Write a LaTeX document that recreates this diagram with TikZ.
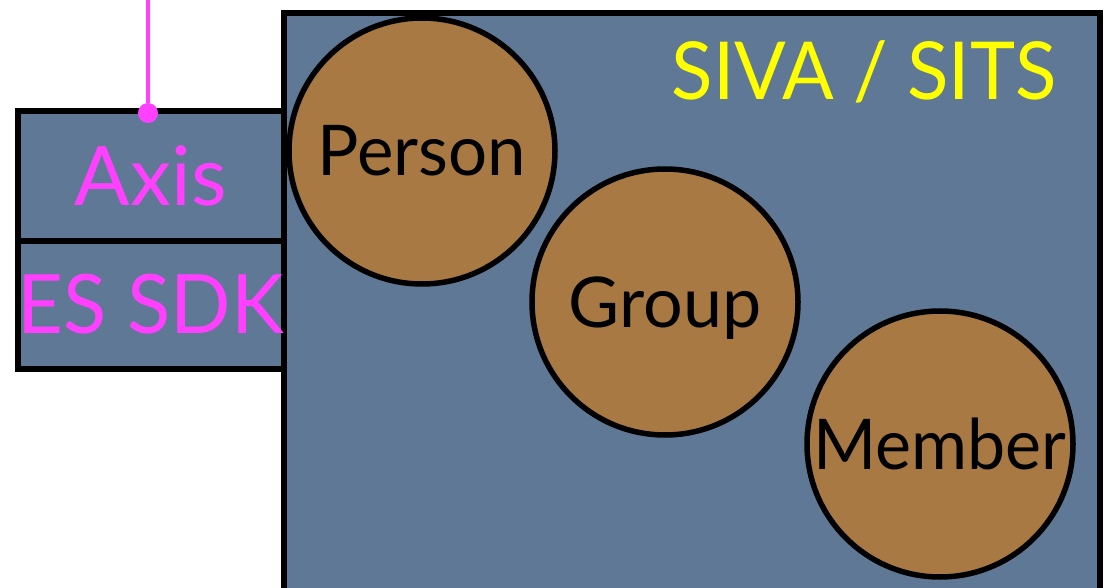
\documentclass[tikz,border=0pt]{standalone}
\usepackage{fontspec}
\usepackage{graphicx}
\setmainfont{Lato}
\usetikzlibrary{positioning}

\definecolor{slate}{RGB}{94,120,150}
\definecolor{bronze}{RGB}{168,121,66}
\definecolor{feedpink}{RGB}{255,64,255}
\definecolor{sitsyellow}{RGB}{255,255,0}

\newcommand{\squeeze}[2]{\scalebox{#1}[1]{#2}}

\tikzset{
    panel/.style={rectangle, draw=black, line width=6pt, fill=slate, inner sep=0pt},
    entity/.style={circle, draw=black, line width=5.5pt, fill=bronze, inner sep=0pt,
        minimum size=266pt, font=\fontsize{70}{80}\selectfont, text height=50pt, text depth=0pt},
    sdklabel/.style={text=feedpink, font=\fontsize{82}{90}\selectfont, text height=58pt, text depth=0pt},
}

\begin{document}
\begin{tikzpicture}[x=1pt,y=-1pt]
    \useasboundingbox (0,0) rectangle (1104,588);
    \fill[white] (0,0) rectangle (1104,588);
    % SIVA / SITS frame
    \node[panel, anchor=north west, minimum width=816pt, minimum height=600pt] (sits) at (281,10) {};
    \node[text=sitsyellow, font=\fontsize{80}{90}\selectfont, text height=57pt, text depth=0pt] (sitstitle) at (864,71.5) {\squeeze{0.955}{SIVA / SITS}};
    % Axis and ES SDK
    \node[panel, anchor=north west, minimum width=266.5pt, minimum height=130.5pt, sdklabel] (axis) at (14.5,108) {Axis};
    \node[panel, anchor=north west, minimum width=266.5pt, minimum height=127pt, sdklabel] (essdk) at (14.5,238.5) {\squeeze{0.97}{ES SDK}};
    % Entities
    \node[entity] (person) at (422,151) {\squeeze{0.985}{Person}};
    \node[entity] (group) at (665,302) {Group};
    \node[entity] (member) at (940,444) {\squeeze{0.973}{Member}};
    % Feed line
    \coordinate (feed) at (148,0);
    \node[circle, fill=feedpink, inner sep=0pt, minimum size=20pt] (tap) at (148,113) {};
    \draw[feedpink, line width=4.5pt] (feed) -- (tap);
\end{tikzpicture}
\end{document}
